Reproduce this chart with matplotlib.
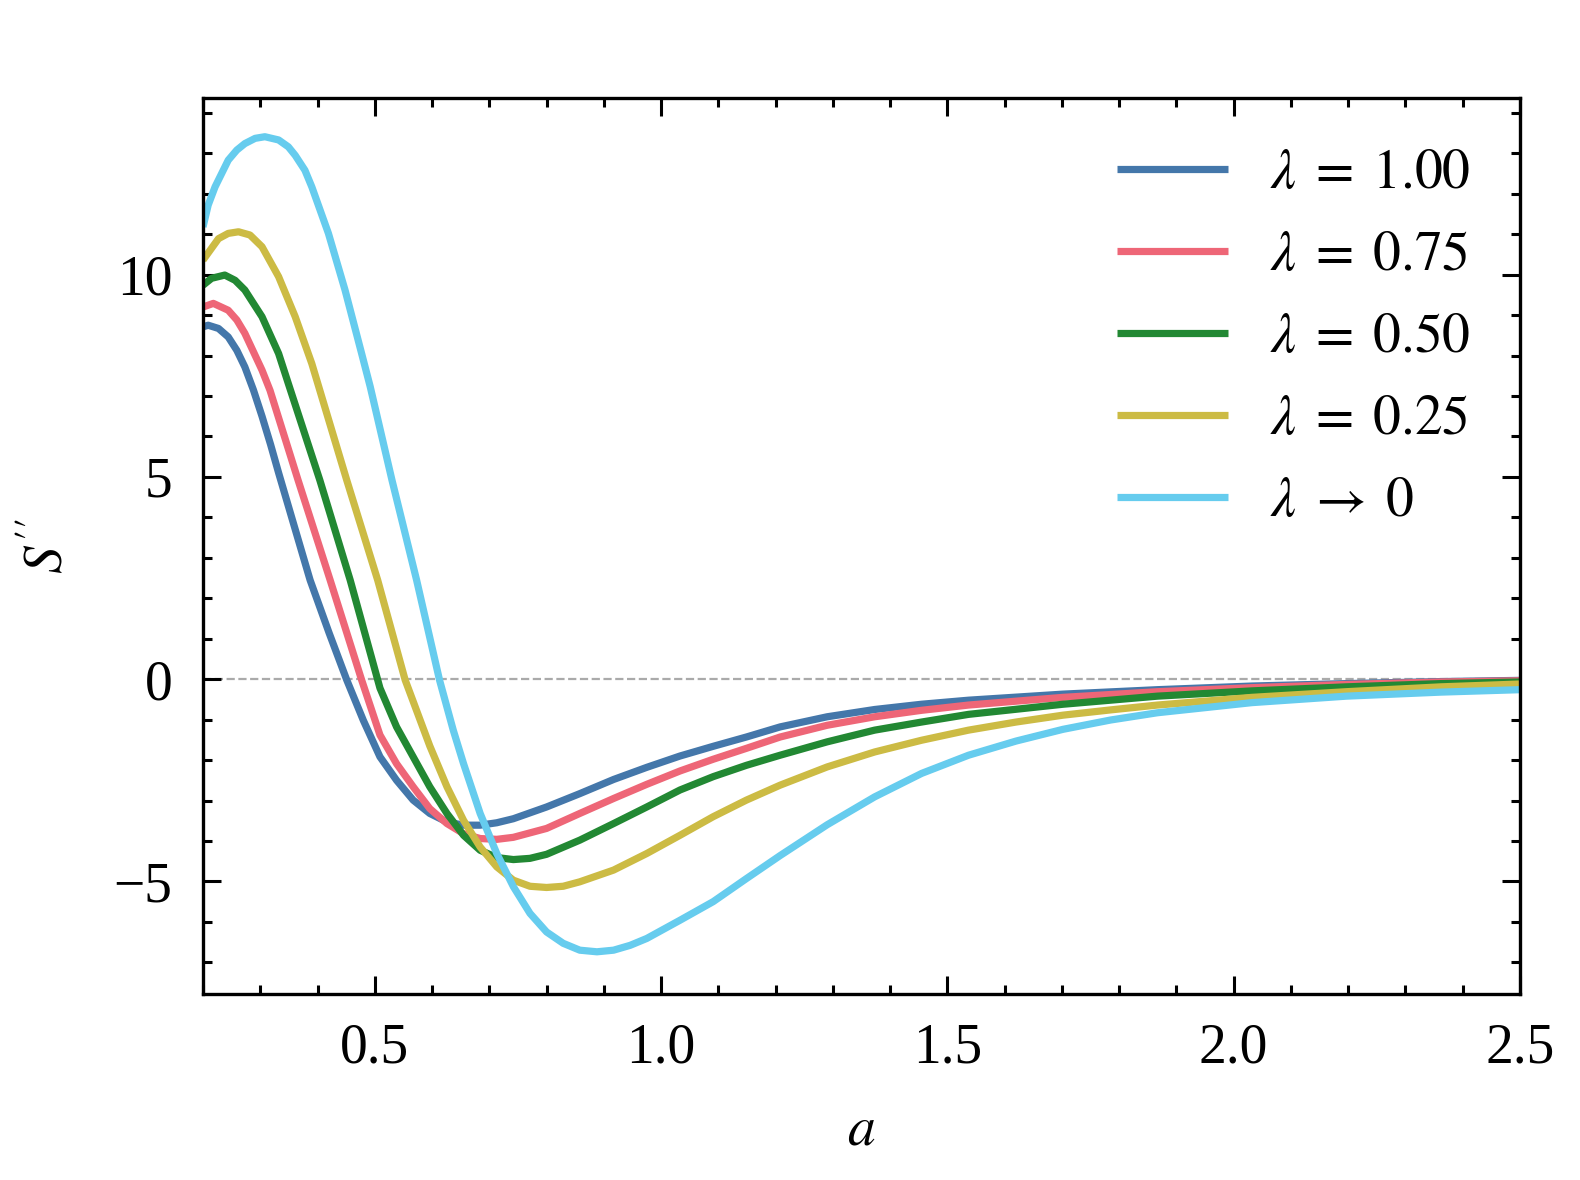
import matplotlib
matplotlib.use('Agg')
import matplotlib.pyplot as plt
from matplotlib.ticker import MultipleLocator

# values
x_l100 = [0.200, 0.209, 0.227, 0.244, 0.259, 0.273, 0.288, 0.303, 0.318, 0.332, 0.360, 0.387,
          0.420, 0.451, 0.480, 0.509, 0.538, 0.567, 0.596, 0.626, 0.655, 0.684, 0.713, 0.742,
          0.800, 0.858, 0.917, 0.975, 1.033, 1.091, 1.149, 1.208, 1.290, 1.373, 1.455, 1.537,
          1.702, 1.867, 2.032, 2.197, 2.362, 2.500]
y_l100 = [8.71, 8.75, 8.67, 8.46, 8.13, 7.72, 7.15, 6.50, 5.80, 5.10, 3.75, 2.45,
          1.15, -0.02, -1.02, -1.92, -2.50, -2.99, -3.32, -3.53, -3.61, -3.61, -3.55, -3.45,
          -3.16, -2.83, -2.48, -2.18, -1.90, -1.66, -1.43, -1.18, -0.93, -0.75, -0.62, -0.52,
          -0.37, -0.26, -0.17, -0.11, -0.06, -0.03]

x_l075 = [0.200, 0.218, 0.244, 0.259, 0.273, 0.303, 0.317, 0.366, 0.422, 0.477, 0.509, 0.538,
          0.567, 0.596, 0.626, 0.655, 0.684, 0.713, 0.742, 0.800, 0.858, 0.917, 0.975, 1.033,
          1.091, 1.149, 1.208, 1.290, 1.373, 1.455, 1.537, 1.702, 1.867, 2.032, 2.197, 2.362,
          2.500]
y_l075 = [9.20, 9.29, 9.12, 8.88, 8.55, 7.64, 7.14, 4.92, 2.45, -0.02, -1.38, -2.09,
          -2.66, -3.20, -3.57, -3.82, -3.94, -3.96, -3.91, -3.69, -3.32, -2.95, -2.60, -2.27,
          -1.98, -1.71, -1.43, -1.14, -0.93, -0.77, -0.64, -0.45, -0.31, -0.21, -0.13, -0.07,
          -0.04]

x_l050 = [0.200, 0.215, 0.238, 0.256, 0.273, 0.303, 0.332, 0.348, 0.404, 0.457, 0.509, 0.538,
          0.567, 0.596, 0.626, 0.655, 0.684, 0.713, 0.742, 0.771, 0.800, 0.858, 0.917, 0.975,
          1.033, 1.091, 1.149, 1.208, 1.290, 1.373, 1.455, 1.537, 1.702, 1.867, 2.032, 2.197,
          2.362, 2.500]
y_l050 = [9.74, 9.91, 9.99, 9.86, 9.62, 8.96, 8.05, 7.35, 4.92, 2.45, -0.22, -1.18,
          -1.92, -2.66, -3.32, -3.86, -4.23, -4.41, -4.46, -4.43, -4.33, -3.98, -3.57, -3.16,
          -2.74, -2.41, -2.13, -1.88, -1.55, -1.26, -1.06, -0.87, -0.62, -0.42, -0.29, -0.19,
          -0.11, -0.07]

x_l025 = [0.200, 0.227, 0.244, 0.262, 0.282, 0.303, 0.332, 0.361, 0.390, 0.451, 0.505, 0.553,
          0.567, 0.596, 0.626, 0.655, 0.684, 0.713, 0.742, 0.771, 0.800, 0.829, 0.858, 0.917,
          0.975, 1.033, 1.091, 1.149, 1.208, 1.290, 1.373, 1.455, 1.537, 1.620, 1.702, 1.785,
          1.867, 2.032, 2.197, 2.362, 2.500]
y_l025 = [10.36, 10.89, 11.02, 11.06, 10.98, 10.69, 9.95, 8.96, 7.80, 4.92, 2.45, -0.02,
          -0.55, -1.65, -2.66, -3.49, -4.15, -4.64, -4.97, -5.12, -5.15, -5.12, -5.01, -4.72,
          -4.31, -3.86, -3.40, -2.99, -2.62, -2.17, -1.80, -1.51, -1.26, -1.06, -0.89, -0.76,
          -0.64, -0.45, -0.31, -0.19, -0.12]

x_l0 = [0.200, 0.209, 0.221, 0.244, 0.259, 0.273, 0.291, 0.308, 0.332, 0.349, 0.361, 0.378,
        0.390, 0.419, 0.448, 0.477, 0.492, 0.530, 0.573, 0.613, 0.637, 0.655, 0.684, 0.713,
        0.742, 0.771, 0.800, 0.829, 0.858, 0.888, 0.917, 0.946, 0.975, 1.033, 1.091, 1.149,
        1.208, 1.290, 1.373, 1.455, 1.537, 1.620, 1.702, 1.785, 1.867, 2.032, 2.197, 2.362,
        2.500]
y_l0 = [11.18, 11.72, 12.17, 12.83, 13.08, 13.24, 13.37, 13.41, 13.33, 13.16, 12.95, 12.58,
        12.17, 11.02, 9.62, 8.05, 7.23, 4.92, 2.45, -0.02, -1.26, -2.09, -3.32, -4.31,
        -5.13, -5.79, -6.25, -6.53, -6.70, -6.74, -6.70, -6.58, -6.41, -5.96, -5.50, -4.93,
        -4.36, -3.60, -2.91, -2.33, -1.88, -1.53, -1.24, -1.01, -0.83, -0.58, -0.42, -0.32,
        -0.26]

labels = [r'$\lambda\;=\;1.00$', r'$\lambda\;=\;0.75$', r'$\lambda\;=\;0.50$',
          r'$\lambda\;=\;0.25$', r'$\lambda\;\rightarrow\;0$']
colors = ['#4477AA', '#EE6677', '#228833', '#CCBB44', '#66CCEE']

plt.rcParams['font.family'] = ['Liberation Serif', 'DejaVu Serif']
plt.rcParams['mathtext.fontset'] = 'stix'
plt.rcParams['font.size'] = 20
plt.rcParams['axes.linewidth'] = 1.2
for ax_name in ['xtick', 'ytick']:
    plt.rcParams[ax_name + '.direction'] = 'in'
    plt.rcParams[ax_name + '.major.size'] = 6.5
    plt.rcParams[ax_name + '.minor.size'] = 3.2
    plt.rcParams[ax_name + '.major.width'] = 1.1
    plt.rcParams[ax_name + '.minor.width'] = 1.1
plt.rcParams['xtick.top'] = True
plt.rcParams['ytick.right'] = True
plt.rcParams['xtick.major.pad'] = 10
plt.rcParams['ytick.major.pad'] = 11

fig = plt.figure(figsize=(7.9, 5.9), dpi=200)
ax = fig.add_axes([0.1285, 0.1574, 0.8335, 0.7593])

ax.axhline(0, color='#aaaaaa', lw=0.8, ls='--', zorder=1)
series = [(x_l100, y_l100), (x_l075, y_l075), (x_l050, y_l050), (x_l025, y_l025), (x_l0, y_l0)]
for (xs, ys), c, lab in zip(series, colors, labels):
    ax.plot(xs, ys, color=c, lw=2.6, label=lab, zorder=2,
            solid_joinstyle='round', solid_capstyle='butt')

ax.set_xlim(0.2, 2.5)
ax.set_ylim(-7.79, 14.36)
ax.xaxis.set_major_locator(MultipleLocator(0.5))
ax.xaxis.set_minor_locator(MultipleLocator(0.1))
ax.yaxis.set_major_locator(MultipleLocator(5))
ax.yaxis.set_minor_locator(MultipleLocator(1))
ax.set_xlabel(r'$a$', labelpad=11)
ax.set_ylabel(r"$S''$", labelpad=14)

ax.legend(loc='upper right', frameon=False, handlelength=2.0, handletextpad=0.75,
          labelspacing=0.54, borderaxespad=0.5)

fig.savefig('out.png', dpi=200)
